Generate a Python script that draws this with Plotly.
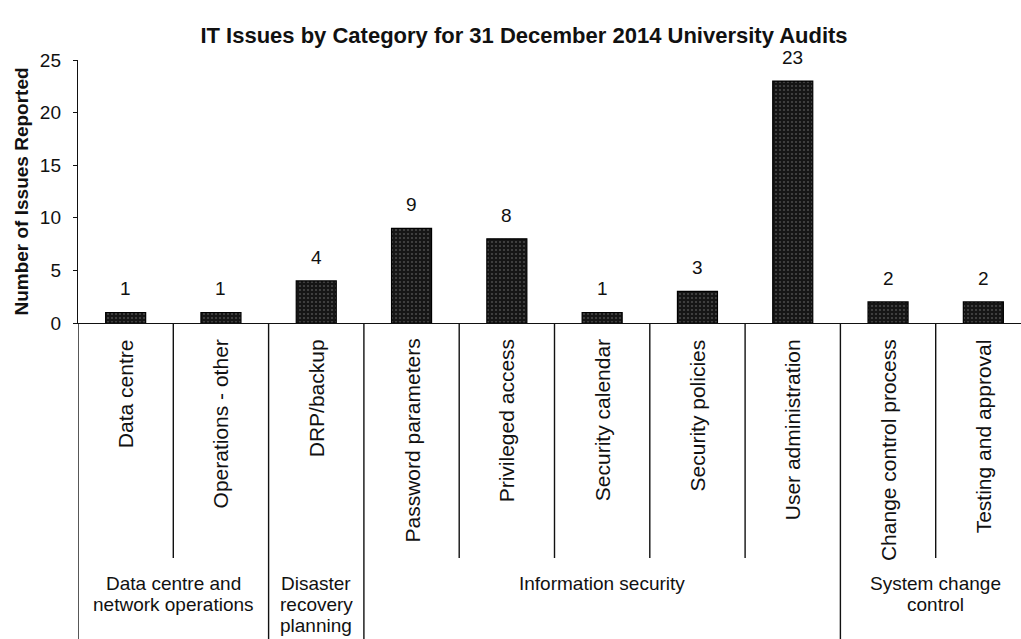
import plotly.graph_objects as go

categories = ["Data centre", "Operations - other", "DRP/backup", "Password parameters",
              "Privileged access", "Security calendar", "Security policies",
              "User administration", "Change control process", "Testing and approval"]
values = [1, 1, 4, 9, 8, 1, 3, 23, 2, 2]
groups = [["Data centre and", "network operations"], ["Disaster", "recovery", "planning"],
          ["Information security"], ["System change", "control"]]
group_sizes = [2, 1, 5, 2]
y_ticks = [0, 5, 10, 15, 20, 25]

FONT = "Liberation Sans, Arial, sans-serif"
INK = "#111"
W, H = 1021, 639
left_px, top_px, bottom_px = 78, 60, 323
cat_w = 95.3
plot_h = bottom_px - top_px

def py(p):
    return (bottom_px - p) / plot_h

x = list(range(len(categories)))
fig = go.Figure()
fig.add_trace(go.Bar(
    x=x, y=values, width=0.42,
    marker=dict(color="#151515", line=dict(color="#000", width=1.2),
                pattern=dict(shape=".", fgcolor="#7a7a7a", bgcolor="#151515", size=4, solidity=0.22)),
    showlegend=False, hoverinfo="skip"))

annotations = []
for xi, v in zip(x, values):
    annotations.append(dict(x=xi, y=v, xref="x", yref="y", text=str(v), showarrow=False,
                            yanchor="bottom", yshift=11, font=dict(size=19, color=INK, family=FONT)))
for xi, c in zip(x, categories):
    annotations.append(dict(x=xi, y=py(337), xref="x", yref="paper", text=c, showarrow=False,
                            textangle=-90, yanchor="top", xanchor="center",
                            font=dict(size=21, color=INK, family=FONT)))

shapes = []
bounds = [0]
for s in group_sizes:
    bounds.append(bounds[-1] + s)
group_edges = set(bounds)
for i in range(len(categories) + 1):
    xb = i - 0.5
    y_end = py(H + 5) if i in group_edges else py(558)
    shapes.append(dict(type="line", xref="x", yref="paper", x0=xb, x1=xb, y0=0, y1=y_end,
                       line=dict(color=INK, width=1.4)))

for gi, lines in enumerate(groups):
    cx = (bounds[gi] + bounds[gi + 1]) / 2 - 0.5
    for li, ln in enumerate(lines):
        annotations.append(dict(x=cx, y=py(583 + li * 21), xref="x", yref="paper", text=ln,
                                showarrow=False, yanchor="middle", xanchor="center",
                                font=dict(size=19, color=INK, family=FONT)))

fig.update_layout(
    width=W, height=H,
    margin=dict(l=left_px, r=0, t=top_px, b=H - bottom_px),
    paper_bgcolor="white", plot_bgcolor="white",
    title=dict(text="<b>IT Issues by Category for 31 December 2014 University Audits</b>",
               x=524 / W, xanchor="center", y=1 - 35 / H, yanchor="middle",
               font=dict(size=22, color=INK, family=FONT)),
    xaxis=dict(range=[-0.5, (W - left_px) / cat_w - 0.5], showticklabels=False, showgrid=False,
               zeroline=False, showline=True, linecolor=INK, linewidth=1.4, ticks=""),
    yaxis=dict(range=[0, 25], tickvals=y_ticks, showgrid=False, zeroline=False,
               showline=True, linecolor=INK, linewidth=1.4, ticks="outside", ticklen=4,
               tickcolor=INK, ticklabelstandoff=8, tickfont=dict(size=19, color=INK, family=FONT),
               title=dict(text="<b>Number of Issues Reported</b>", standoff=6,
                          font=dict(size=19, color=INK, family=FONT))),
    annotations=annotations, shapes=shapes,
)
fig.write_html("out.html")
